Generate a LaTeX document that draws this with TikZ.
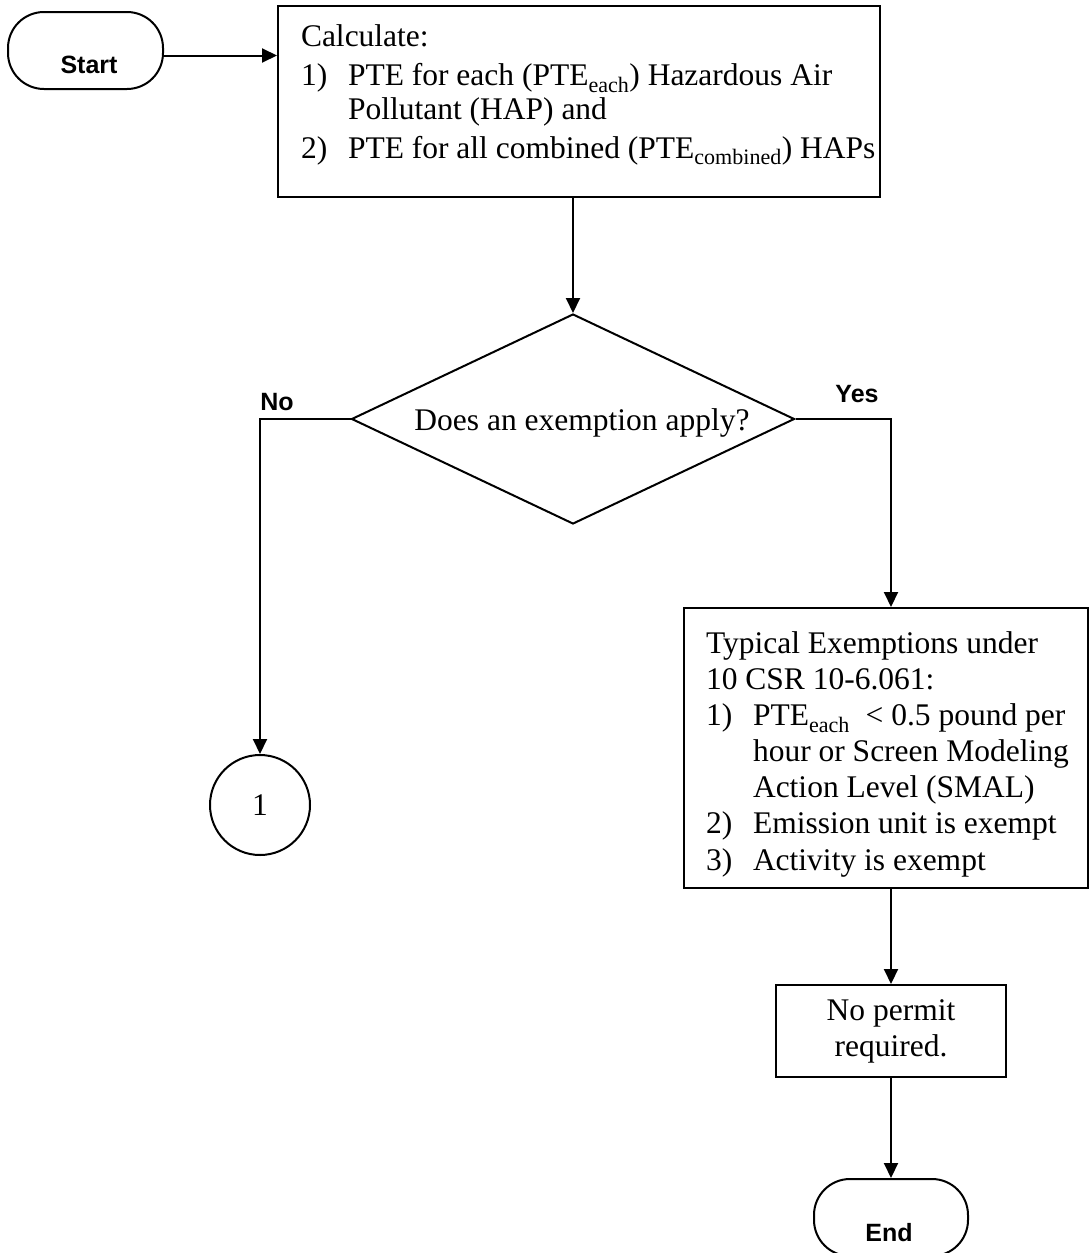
\documentclass[tikz,border=0pt]{standalone}
\usepackage{fontspec}
\setmainfont{Liberation Serif}
\newfontfamily\labelsans{Liberation Sans}
\usetikzlibrary{arrows.meta,shapes.geometric}

\begin{document}
\begin{tikzpicture}[x=1pt,y=-1pt,
  line width=2pt,
  box/.style={draw, rectangle, inner sep=0pt},
  term/.style={draw, rectangle, rounded corners=36pt, inner sep=0pt},
  flow/.style={-{Triangle[length=15pt,width=14pt]}},
  serif/.style={font=\fontsize{31.5}{36.17}\selectfont, inner sep=0pt},
  lbl/.style={font=\labelsans\bfseries\fontsize{25}{30}\selectfont, inner sep=0pt},
]
\useasboundingbox (0,0) rectangle (1090,1253);
\clip (0,0) rectangle (1090,1253);

% Start terminal
\node[term, minimum width=155pt, minimum height=77pt] (start) at (85.5,50.5) {};
\node[lbl, anchor=base] (starttxt) at (89,73) {Start};

% Calculate box
\node[box, minimum width=602pt, minimum height=191pt] (calc) at (579,101.5) {};
\node[serif, anchor=base west] (calctxt) at (300,46.7) {\parbox[t]{620pt}{\raggedright
Calculate:\\[3pt]
\makebox[47pt][l]{1)}PTE for each (PTE\textsubscript{each}) Hazardous Air\\[-3pt]
\hspace*{47pt}Pollutant (HAP) and\\[3pt]
\makebox[47pt][l]{2)}PTE for all combined (PTE\textsubscript{combined}) HAPs}};

% Decision
\node[diamond, draw, minimum width=443pt, minimum height=210pt, inner sep=0pt] (dec) at (573,419) {};
\node[serif, anchor=base] (dectxt) at (582,430) {Does an exemption apply?};

% Connector circle
\node[draw, circle, minimum size=100pt, inner sep=0pt, serif] (one) at (260,805) {1};

% Exemptions box
\node[box, minimum width=404pt, minimum height=280pt] (exb) at (886,748) {};
\node[serif, anchor=base west] (exbtxt) at (705,653) {\parbox[t]{380pt}{\raggedright
Typical Exemptions under\\
10 CSR 10-6.061:\\
\makebox[47pt][l]{1)}PTE\textsubscript{each}\ \ {<} 0.5 pound per\\
\hspace*{47pt}hour or Screen Modeling\\
\hspace*{47pt}Action Level (SMAL)\\
\makebox[47pt][l]{2)}Emission unit is exempt\\
\makebox[47pt][l]{3)}Activity is exempt}};

% No permit box
\node[box, serif, minimum width=230pt, minimum height=92pt, align=center] (nop) at (891,1031) {No permit\\required.};

% End terminal
\node[term, minimum width=154pt, minimum height=77pt] (end) at (891,1217.5) {};
\node[lbl, anchor=base] (endtxt) at (889,1241) {End};

% Labels
\node[lbl, anchor=base] (nolbl) at (277,410) {No};
\node[lbl, anchor=base] (yeslbl) at (857,402) {Yes};

% Connectors
\draw[flow] ([yshift=-5pt]start.east) -- ([yshift=-5pt]start.east -| calc.west);
\draw[flow] (calc.south -| dec.north) -- (dec.north);
\draw[flow] (dec.west) -- (dec.west -| one.north) -- (one.north);
\draw[flow] (dec.east) -- (dec.east -| nop.north) -- (exb.north -| nop.north);
\draw[flow] (exb.south -| nop.north) -- (nop.north);
\draw[flow] (nop.south) -- (end.north);
\end{tikzpicture}
\end{document}
